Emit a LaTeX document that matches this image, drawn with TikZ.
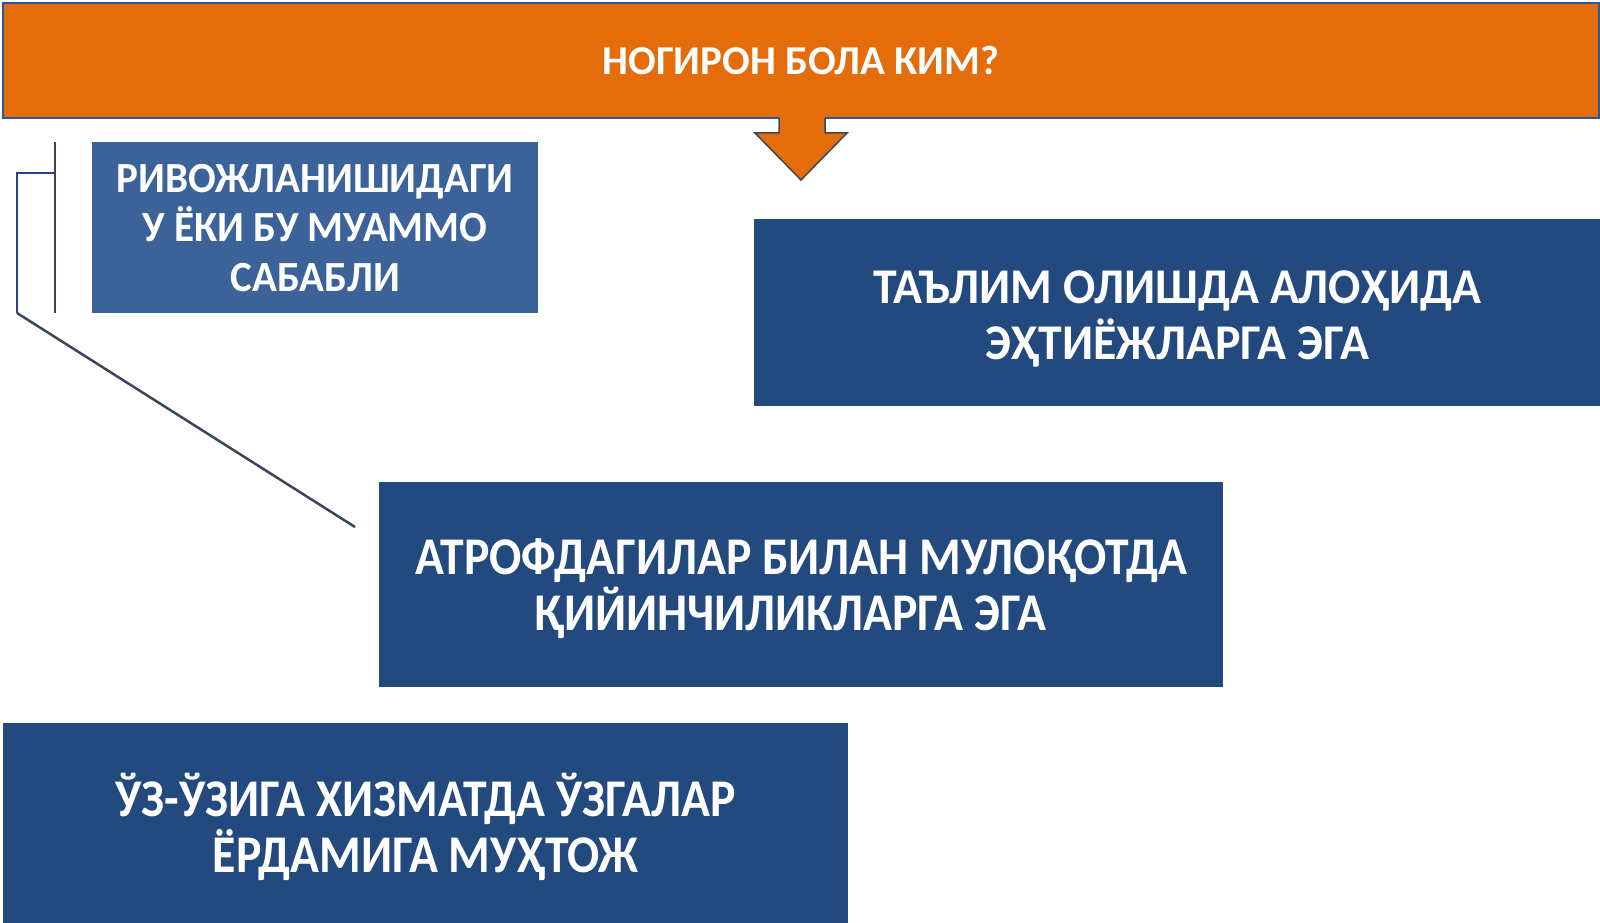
\documentclass[tikz,border=0pt]{standalone}
\usepackage{fontspec}
\setmainfont{Carlito}
\newfontfamily\narrowfont[FakeStretch=0.9]{Carlito}
\newfontfamily\slimfont[FakeStretch=0.955]{Carlito}
\usetikzlibrary{positioning}
\definecolor{titleorange}{HTML}{E46C0A}
\definecolor{titleedge}{HTML}{2F5597}
\definecolor{boxblue}{HTML}{224A7E}
\definecolor{lightblue}{HTML}{3B6399}
\definecolor{linegray}{HTML}{3A4558}
\definecolor{bracketblue}{HTML}{2E4185}
\newcommand{\lowertext}[1]{\rule{0pt}{#1}}

\begin{document}
\begin{tikzpicture}[x=1pt,y=-1pt,
    title/.style={fill=titleorange,draw=titleedge,line width=2pt,text=white,
      font=\bfseries\fontsize{41}{45}\selectfont,anchor=north west,inner sep=0pt},
    box/.style={fill=boxblue,text=white,align=center,anchor=north west,inner sep=0pt,
      font=\narrowfont\bfseries\fontsize{53}{56}\selectfont},
    line/.style={draw=linegray,line width=2.5pt}]
    \useasboundingbox (0,0) rectangle (1600,923);
    \node[title] (who)   at (2,2)     [minimum width=1596pt,minimum height=115pt] {НОГИРОН БОЛА КИМ?};
    \node[box] (cause)   at (92,142)  [minimum width=446pt,minimum height=171pt,fill=lightblue,
      font=\slimfont\bfseries\fontsize{43}{49.5}\selectfont] {РИВОЖЛАНИШИДАГИ\\У ЁКИ БУ МУАММО\\САБАБЛИ};
    \node[box] (study)   at (754,219) [minimum width=846pt,minimum height=187pt,
      font=\slimfont\bfseries\fontsize{50}{56}\selectfont] {\lowertext{46pt}ТАЪЛИМ ОЛИШДА АЛОҲИДА\\ЭҲТИЁЖЛАРГА ЭГА};
    \node[box] (talk)    at (379,482) [minimum width=844pt,minimum height=205pt]
      {\lowertext{44pt}АТРОФДАГИЛАР БИЛАН МУЛОҚОТДА\\ҚИЙИНЧИЛИКЛАРГА ЭГА\hspace*{22pt}};
    \node[box] (help)    at (3,723)   [minimum width=845pt,minimum height=208pt] {ЎЗ-ЎЗИГА ХИЗМАТДА ЎЗГАЛАР\\ЁРДАМИГА МУҲТОЖ};
    % arrow under the title
    \fill[titleorange] (779,110) -- (779,133) -- (755,133) -- (801,180) -- (847,133) -- (825,133) -- (825,110) -- cycle;
    \draw[line,line width=1.5pt] (779,118) -- (779,133) -- (755,133) -- (801,180) -- (847,133) -- (825,133) -- (825,118);
    % lines on the left
    \coordinate (v_top) at (cause.north west -| 55,0);
    \coordinate (v_bot) at (cause.south west -| 55,0);
    \coordinate (b_top) at (55,173);
    \coordinate (b_in)  at (17,173);
    \coordinate (b_bot) at (17,313);
    \coordinate (d_end) at (355,527);
    \draw[line] (v_top) -- (v_bot);
    \draw[line,draw=bracketblue] (b_top) -- (b_in) -- (b_bot);
    \draw[line] (b_bot) -- (d_end);
\end{tikzpicture}
\end{document}
